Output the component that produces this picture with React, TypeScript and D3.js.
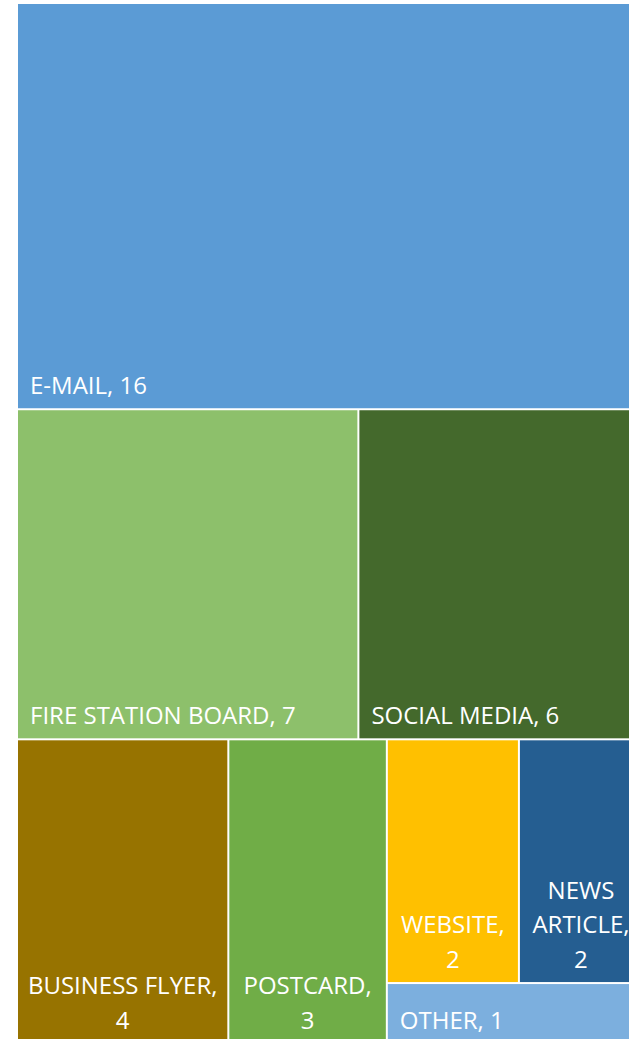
import React, { useMemo } from "react";
import * as d3 from "d3";

// how people heard about it (count of responses)
const categories = [
  "E-MAIL",
  "FIRE STATION BOARD",
  "SOCIAL MEDIA",
  "BUSINESS FLYER",
  "POSTCARD",
  "WEBSITE",
  "NEWS ARTICLE",
  "OTHER",
];
const counts = [16, 7, 6, 4, 3, 2, 2, 1];
const colors = [
  "#5B9BD5",
  "#8DC06B",
  "#44692C",
  "#977300",
  "#70AD47",
  "#FFC000",
  "#255E91",
  "#7CAFDE",
];

const W = 629;
const H = 1039;
const FONT = "'Open Sans', sans-serif";
const FONT_SIZE = 24;
const LINE_H = 34.5;

let ctx: CanvasRenderingContext2D | null = null;
const measure = (s: string) => {
  if (!ctx) {
    ctx = document.createElement("canvas").getContext("2d");
  }
  if (!ctx) return s.length * FONT_SIZE * 0.55;
  ctx.font = `${FONT_SIZE}px 'Open Sans'`;
  return ctx.measureText(s).width;
};

// greedy word wrap
const wrap = (text: string, maxW: number) => {
  const words = text.split(" ");
  const lines: string[] = [];
  let cur = "";
  words.forEach((w) => {
    const next = cur ? cur + " " + w : w;
    if (cur && measure(next) > maxW) {
      lines.push(cur);
      cur = w;
    } else {
      cur = next;
    }
  });
  if (cur) lines.push(cur);
  return lines;
};

// one line if it fits, otherwise name wrapped and the value on its own line
const labelLines = (name: string, value: number, w: number) => {
  const full = `${name}, ${value}`;
  if (measure(full) <= w - 16) return [full];
  return [...wrap(name + ",", w - 12), String(value)];
};

const App = () => {
  const leaves = useMemo(() => {
    const data = {
      name: "root",
      children: categories.map((c, i) => ({ name: c, value: counts[i], color: colors[i] })),
    };
    const root = d3
      .hierarchy<any>(data)
      .sum((d) => d.value || 0)
      .sort((a, b) => (b.value || 0) - (a.value || 0));
    d3.treemap<any>()
      .tile(d3.treemapSquarify.ratio(1))
      .size([632, 1039])
      .paddingInner(2)(root);
    return root.leaves() as d3.HierarchyRectangularNode<any>[];
  }, []);

  return (
    <svg
      width={W}
      height={H}
      style={{ position: "absolute", left: 0, top: 0, background: "#fff" }}
    >
      <g transform="translate(18,4)">
        {leaves.map((d, i) => {
          const w = d.x1 - d.x0;
          const lines = labelLines(d.data.name, d.data.value, w);
          const single = lines.length === 1;
          const bottom = d.y1 - 14.5;
          return (
            <g key={i}>
              <rect x={d.x0} y={d.y0} width={w} height={d.y1 - d.y0} fill={d.data.color} />
              <text
                fill="#fff"
                fontFamily={FONT}
                fontSize={FONT_SIZE}
                textAnchor={single ? "start" : "middle"}
              >
                {lines.map((l, j) => (
                  <tspan
                    key={j}
                    x={single ? d.x0 + 12 : (d.x0 + d.x1) / 2 - (d.x1 > 620 ? 4 : 0)}
                    y={bottom - (lines.length - 1 - j) * LINE_H}
                  >
                    {l}
                  </tspan>
                ))}
              </text>
            </g>
          );
        })}
      </g>
    </svg>
  );
};

export default App;
